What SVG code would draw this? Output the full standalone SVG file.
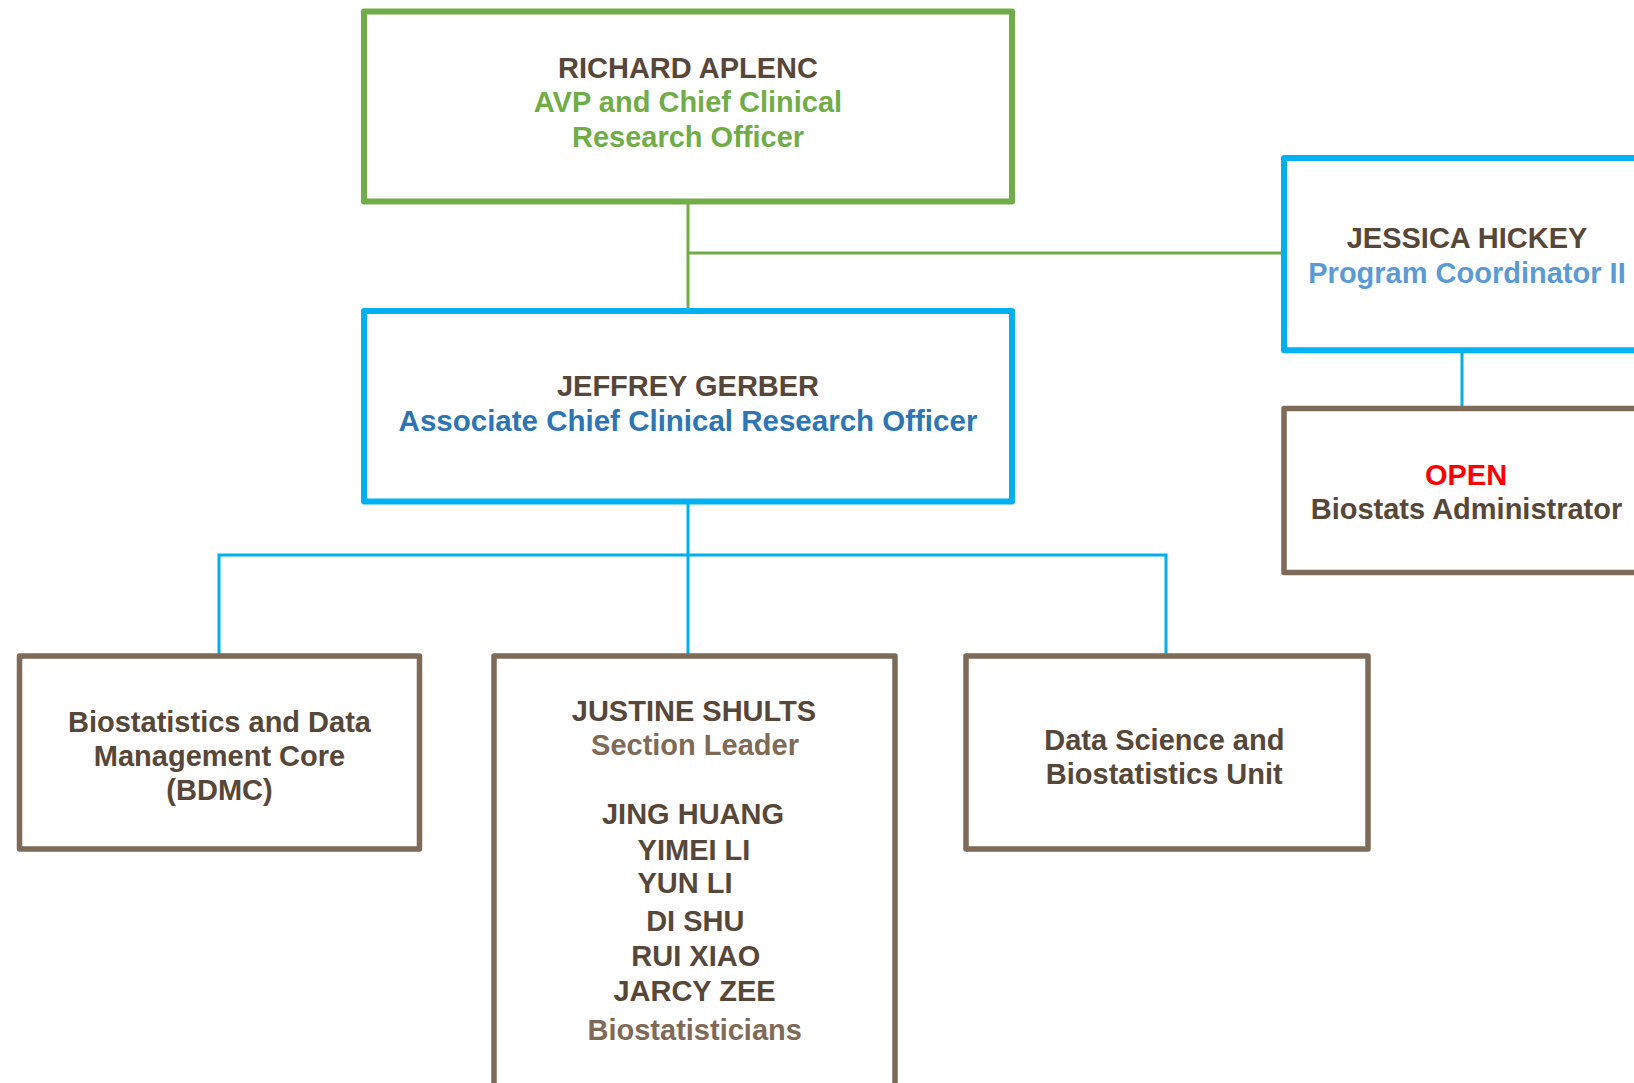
<svg xmlns="http://www.w3.org/2000/svg" width="1634" height="1083" viewBox="0 0 1634 1083">
<style>
text{font-family:"Liberation Sans",Arial,sans-serif;font-weight:bold;font-size:29px;text-anchor:middle}
.box{fill:#FFFFFF;stroke-linejoin:round}
.g{stroke:#70AD47;stroke-width:6}
.b{stroke:#00B0F0;stroke-width:6}
.br{stroke:#7E6A57;stroke-width:5.5}
.dk{fill:#564739}
.gt{fill:#70AD47}
.bt{fill:#2E75B6;font-size:29.5px}
.lbt{fill:#5B9BD5}
.bnt{fill:#7E6A57}
.red{fill:#FF0000}
.cg{stroke:#70AD47;stroke-width:3;fill:none}
.cb{stroke:#00B0F0;stroke-width:3;fill:none}
</style>
<rect width="1634" height="1083" fill="#FFFFFF"/>
<g id="connectors">
<line class="cg" x1="688" y1="204" x2="688" y2="309"/>
<line class="cg" x1="688" y1="253" x2="1282" y2="253"/>
<line class="cb" x1="688" y1="504" x2="688" y2="654"/>
<polyline class="cb" points="219,654 219,555 1166,555 1166,654"/>
<line class="cb" x1="1462" y1="353" x2="1462" y2="406"/>
</g>
<g id="aplenc">
<rect class="box g" x="364" y="11.5" width="648" height="190"/>
<text class="dk" x="688" y="77.5">RICHARD APLENC</text>
<text class="gt" x="688" y="112">AVP and Chief Clinical</text>
<text class="gt" x="688" y="146.5">Research Officer</text>
</g>
<g id="hickey">
<rect class="box b" x="1284" y="158" width="420" height="192.3"/>
<text class="dk" x="1467" y="248.3">JESSICA HICKEY</text>
<text class="lbt" x="1467" y="282.7">Program Coordinator II</text>
</g>
<g id="open">
<rect class="box br" x="1284" y="408.5" width="420" height="164"/>
<text class="red" x="1466" y="485">OPEN</text>
<text class="dk" x="1466.5" y="519.3">Biostats Administrator</text>
</g>
<g id="gerber">
<rect class="box b" x="364" y="311" width="648" height="190.5"/>
<text class="dk" x="688" y="396">JEFFREY GERBER</text>
<text class="bt" x="688" y="430.5">Associate Chief Clinical Research Officer</text>
</g>
<g id="bdmc">
<rect class="box br" x="19.5" y="656" width="400" height="193"/>
<text class="dk" x="219.5" y="731.5">Biostatistics and Data</text>
<text class="dk" x="219.5" y="766">Management Core</text>
<text class="dk" x="219.5" y="800">(BDMC)</text>
</g>
<g id="shults">
<rect class="box br" x="494" y="656" width="401" height="460"/>
<text class="dk" x="694" y="721">JUSTINE SHULTS</text>
<text class="bnt" x="695" y="755">Section Leader</text>
<text class="dk" x="693" y="824.3">JING HUANG</text>
<text class="dk" x="694" y="860">YIMEI LI</text>
<text class="dk" x="685" y="893.3">YUN LI</text>
<text class="dk" x="695.3" y="930.7">DI SHU</text>
<text class="dk" x="695.8" y="966">RUI XIAO</text>
<text class="dk" x="694.5" y="1000.7">JARCY ZEE</text>
<text class="bnt" x="694.7" y="1040">Biostatisticians</text>
</g>
<g id="dsbu">
<rect class="box br" x="966" y="656" width="402" height="193"/>
<text class="dk" x="1164.3" y="750">Data Science and</text>
<text class="dk" x="1164.3" y="784">Biostatistics Unit</text>
</g>
</svg>
